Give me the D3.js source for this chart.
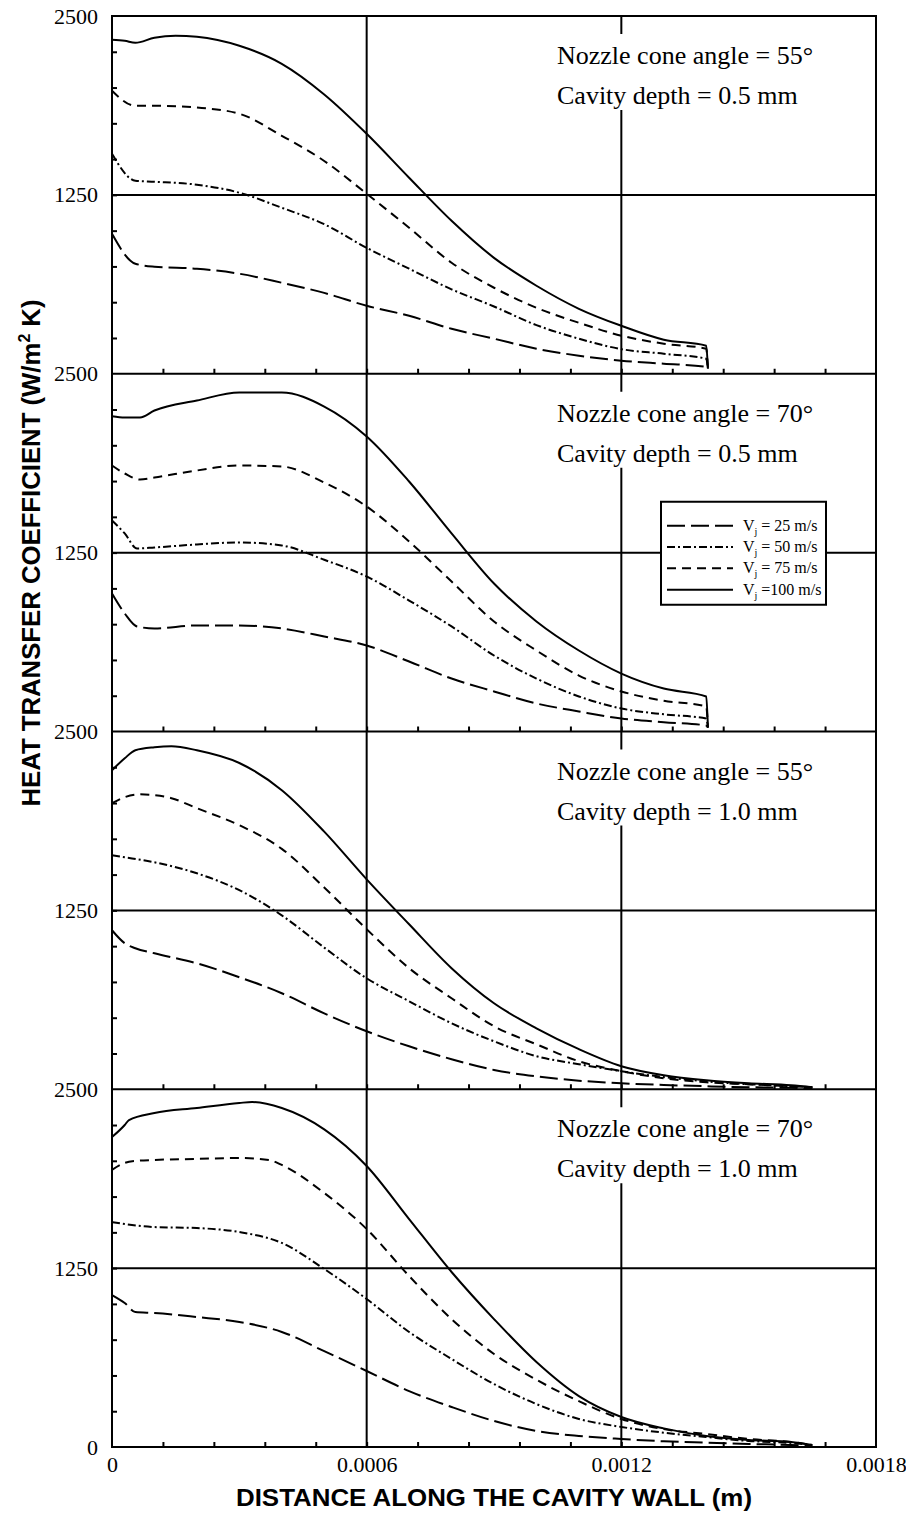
<!DOCTYPE html>
<html>
<head>
<meta charset="utf-8">
<script src="https://cdn.jsdelivr.net/npm/d3@7"></script>
<style>
body { margin: 0; background: #fff; }
svg { display: block; }
</style>
</head>
<body>
<div id="chart"></div>
<script>
// distance along wall (m), heat transfer coefficient (W/m2 K)
// panel 1: cone 55, depth 0.5 mm
const p1v25 = [[0,978],[0.000055,769],[0.0001,748],[0.0002,734],[0.0003,699],[0.0004,636],[0.0005,565],[0.0006,475],[0.0007,405],[0.0008,314],[0.0009,245],[0.001,175],[0.0011,126],[0.0012,91],[0.0013,70],[0.0014,49],[0.001404,35]];
const p1v50 = [[0,1537],[0.000055,1349],[0.0001,1342],[0.0002,1321],[0.0003,1265],[0.0004,1160],[0.0005,1045],[0.0006,880],[0.0007,734],[0.0008,590],[0.0009,470],[0.001,340],[0.0011,245],[0.0012,172],[0.0013,140],[0.0014,105],[0.001404,35]];
const p1v75 = [[0,1978],[0.000055,1873],[0.0001,1873],[0.0002,1860],[0.0003,1817],[0.0004,1663],[0.0005,1487],[0.0006,1258],[0.0007,1020],[0.0008,776],[0.0009,601],[0.001,461],[0.0011,356],[0.0012,266],[0.0013,210],[0.0014,175],[0.001404,35]];
const p1v100 = [[0,2334],[0.00003,2327],[0.000055,2313],[0.0001,2348],[0.00015,2362],[0.0002,2355],[0.0003,2292],[0.0004,2166],[0.0005,1952],[0.0006,1677],[0.0007,1370],[0.0008,1069],[0.0009,810],[0.001,615],[0.0011,454],[0.0012,335],[0.0013,238],[0.0014,196],[0.001404,35]];

// panel 2: cone 70, depth 0.5 mm
const p2v25 = [[0,964],[0.00003,825],[0.000059,734],[0.0001,720],[0.0002,741],[0.0003,741],[0.0004,720],[0.0005,664],[0.0006,601],[0.0007,489],[0.0008,370],[0.0009,280],[0.001,196],[0.0011,140],[0.0012,91],[0.0013,65],[0.0014,42],[0.001404,28]];
const p2v50 = [[0,1474],[0.00003,1384],[0.000059,1279],[0.0001,1286],[0.0002,1307],[0.0003,1321],[0.0004,1300],[0.0005,1200],[0.0006,1083],[0.0007,915],[0.0008,734],[0.0009,531],[0.001,370],[0.0011,245],[0.0012,161],[0.0013,120],[0.0014,91],[0.001404,28]];
const p2v75 = [[0,1859],[0.00003,1803],[0.000066,1761],[0.0001,1775],[0.0002,1824],[0.0003,1859],[0.0004,1852],[0.0005,1740],[0.0006,1572],[0.0007,1328],[0.0008,1048],[0.0009,769],[0.001,566],[0.0011,391],[0.0012,280],[0.0013,215],[0.0014,175],[0.001404,28]];
const p2v100 = [[0,2203],[0.00003,2194],[0.000066,2194],[0.0001,2243],[0.0002,2313],[0.0003,2369],[0.0004,2369],[0.0005,2271],[0.0006,2062],[0.0007,1747],[0.0008,1384],[0.0009,1034],[0.001,769],[0.0011,566],[0.0012,405],[0.0013,300],[0.0014,245],[0.001404,28]];

// panel 3: cone 55, depth 1.0 mm
const p3v25 = [[0,1111],[0.00003,1020],[0.000055,985],[0.0001,950],[0.0002,880],[0.0003,783],[0.0004,671],[0.0005,530],[0.0006,405],[0.0007,300],[0.0008,210],[0.0009,135],[0.001,90],[0.0011,60],[0.0012,42],[0.0013,30],[0.0014,21],[0.0015,14],[0.0016,10],[0.00165,7]];
const p3v50 = [[0,1635],[0.00003,1621],[0.0001,1586],[0.0002,1509],[0.0003,1391],[0.0004,1215],[0.0005,990],[0.0006,775],[0.0007,615],[0.0008,461],[0.0009,335],[0.001,231],[0.0011,175],[0.0012,126],[0.0013,85],[0.0014,55],[0.0015,35],[0.0016,21],[0.00165,14]];
const p3v75 = [[0,1999],[0.00003,2041],[0.000066,2061],[0.0001,2055],[0.00014,2034],[0.0002,1964],[0.0003,1845],[0.0004,1680],[0.0005,1410],[0.0006,1118],[0.0007,846],[0.0008,636],[0.0009,440],[0.001,314],[0.0011,196],[0.0012,126],[0.0013,77],[0.0014,49],[0.0015,35],[0.0016,21],[0.00165,14]];
const p3v100 = [[0,2229],[0.00003,2313],[0.000055,2369],[0.0001,2390],[0.00014,2397],[0.0002,2369],[0.0003,2280],[0.0004,2090],[0.0005,1800],[0.0006,1467],[0.0007,1153],[0.0008,846],[0.0009,601],[0.001,426],[0.0011,280],[0.0012,161],[0.0013,98],[0.0014,63],[0.0015,42],[0.0016,28],[0.00165,14]];

// panel 4: cone 70, depth 1.0 mm
const p4v25 = [[0,1062],[0.00003,1006],[0.000055,943],[0.0001,936],[0.0002,908],[0.0003,874],[0.0004,804],[0.0005,670],[0.0006,531],[0.0007,391],[0.0008,280],[0.0009,182],[0.001,112],[0.0011,77],[0.0012,56],[0.0013,40],[0.0014,30],[0.0015,21],[0.0016,14],[0.00165,7]];
const p4v50 = [[0,1572],[0.00003,1558],[0.0001,1537],[0.0002,1530],[0.0003,1502],[0.0004,1426],[0.0005,1244],[0.0006,1034],[0.0007,804],[0.0008,615],[0.0009,440],[0.001,300],[0.0011,196],[0.0012,140],[0.0013,100],[0.0014,70],[0.0015,42],[0.0016,28],[0.00165,14]];
const p4v75 = [[0,1936],[0.00003,1985],[0.000055,1999],[0.0001,2006],[0.0002,2013],[0.0003,2020],[0.00037,2006],[0.0004,1971],[0.0005,1775],[0.0006,1523],[0.0007,1195],[0.0008,894],[0.0009,650],[0.001,470],[0.0011,320],[0.0012,196],[0.0013,125],[0.0014,91],[0.0015,56],[0.0016,35],[0.00165,14]];
const p4v100 = [[0,2166],[0.00003,2250],[0.00004,2285],[0.0001,2334],[0.0002,2369],[0.0003,2404],[0.00033,2411],[0.0004,2369],[0.0005,2220],[0.0006,1964],[0.0007,1593],[0.0008,1223],[0.0009,894],[0.001,594],[0.0011,356],[0.0012,210],[0.0013,130],[0.0014,77],[0.0015,49],[0.0016,35],[0.00165,14]];

const speeds = ['25', '50', '75', '100'];
const coneAngles = ['55', '70', '55', '70'];
const cavityDepths = ['0.5', '0.5', '1.0', '1.0'];
const xTicks = [0, 0.0006, 0.0012, 0.0018];
const yTicks = [0, 1250, 2500];

const panels = [
    [p1v25, p1v50, p1v75, p1v100],
    [p2v25, p2v50, p2v75, p2v100],
    [p3v25, p3v50, p3v75, p3v100],
    [p4v25, p4v50, p4v75, p4v100]
];

// line styles per jet speed
const dashes = ['18,6', '8,3,2,3', '9,6', null];

const width = 906, height = 1513;
const plotLeft = 112, plotRight = 876, plotTop = 16, panelH = 357.75;
const plotBottom = plotTop + panelH * 4;
const serif = "'Liberation Serif', 'Times New Roman', serif";
const sans = "'Liberation Sans', Arial, sans-serif";

const svg = d3.select('#chart')
    .append('svg')
    .attr('width', width)
    .attr('height', height);

const x = d3.scaleLinear().domain([0, 0.0018]).range([plotLeft, plotRight]);

panels.forEach((series, i) => {
    const y0 = plotTop + i * panelH;
    const y = d3.scaleLinear().domain([0, 2500]).range([y0 + panelH, y0]);
    const g = svg.append('g');

    // grid lines
    g.append('line')
        .attr('x1', plotLeft).attr('x2', plotRight)
        .attr('y1', y(1250)).attr('y2', y(1250))
        .attr('stroke', '#000').attr('stroke-width', 2);
    g.selectAll('.vgrid')
        .data([0.0006, 0.0012])
        .join('line')
        .attr('x1', d => x(d)).attr('x2', d => x(d))
        .attr('y1', y0).attr('y2', y0 + panelH)
        .attr('stroke', '#000').attr('stroke-width', 2);

    // minor ticks
    g.append('g')
        .attr('transform', `translate(0,${y0 + panelH})`)
        .call(d3.axisTop(x).tickValues(d3.range(1, 15).map(k => k * 0.00012)).tickSize(5).tickFormat(''))
        .call(a => a.select('.domain').remove())
        .selectAll('line').attr('stroke-width', 2);
    g.append('g')
        .attr('transform', `translate(${plotLeft},0)`)
        .call(d3.axisRight(y).tickValues(d3.range(250, 2500, 250)).tickSize(5).tickFormat(''))
        .call(a => a.select('.domain').remove())
        .selectAll('line').attr('stroke-width', 2);

    // curves
    const line = d3.line()
        .x(d => x(d[0]))
        .y(d => y(d[1]))
        .curve(d3.curveMonotoneX);

    g.selectAll('.curve')
        .data(series)
        .join('path')
        .attr('d', line)
        .attr('fill', 'none')
        .attr('stroke', '#000')
        .attr('stroke-width', 2)
        .attr('stroke-dasharray', (d, k) => dashes[k]);

    // y labels
    const labels = i === 3 ? yTicks : yTicks.slice(1);
    g.append('g')
        .attr('transform', `translate(${plotLeft},0)`)
        .call(d3.axisLeft(y).tickValues(labels).tickSize(0).tickPadding(14).tickFormat(d3.format('d')))
        .call(a => a.select('.domain').remove())
        .selectAll('text')
        .attr('font-family', serif)
        .attr('font-size', 22)
        .attr('fill', '#000');

    // panel annotation
    g.append('rect')
        .attr('x', 553).attr('y', y0 + 18)
        .attr('width', 272).attr('height', 76)
        .attr('fill', '#fff');
    const note = g.append('text')
        .attr('font-family', serif)
        .attr('font-size', 26)
        .attr('fill', '#000');
    note.append('tspan').attr('x', 557).attr('y', y0 + 48)
        .text(`Nozzle cone angle = ${coneAngles[i]}°`);
    note.append('tspan').attr('x', 557).attr('y', y0 + 88)
        .text(`Cavity depth = ${cavityDepths[i]} mm`);

    // legend sits in the second panel
    if (i === 1) {
        const lg = svg.append('g').attr('transform', `translate(661,${y0 + 128})`);
        lg.append('rect')
            .attr('width', 165).attr('height', 103)
            .attr('fill', '#fff').attr('stroke', '#000').attr('stroke-width', 2);
        const row = lg.selectAll('.row')
            .data(speeds)
            .join('g')
            .attr('transform', (d, k) => `translate(0,${24 + k * 21.3})`);
        row.append('line')
            .attr('x1', 6).attr('x2', 72)
            .attr('stroke', '#000').attr('stroke-width', 2)
            .attr('stroke-dasharray', (d, k) => dashes[k]);
        const t = row.append('text')
            .attr('x', 82).attr('y', 5)
            .attr('font-family', serif)
            .attr('font-size', 16)
            .attr('fill', '#000');
        t.append('tspan').text('V');
        t.append('tspan').attr('font-size', 10).attr('dy', 4).text('j');
        t.append('tspan').attr('dy', -4).text(d => d === '100' ? ' =100 m/s' : ` =  ${d} m/s`);
    }
});

// frame and panel borders
svg.append('rect')
    .attr('x', plotLeft).attr('y', plotTop)
    .attr('width', plotRight - plotLeft).attr('height', plotBottom - plotTop)
    .attr('fill', 'none').attr('stroke', '#000').attr('stroke-width', 2);
svg.selectAll('.sep')
    .data([1, 2, 3])
    .join('line')
    .attr('x1', plotLeft).attr('x2', plotRight)
    .attr('y1', d => plotTop + d * panelH).attr('y2', d => plotTop + d * panelH)
    .attr('stroke', '#000').attr('stroke-width', 2);

// x labels
svg.append('g')
    .attr('transform', `translate(0,${plotBottom})`)
    .call(d3.axisBottom(x).tickValues(xTicks).tickSize(0).tickPadding(9)
        .tickFormat(d => d === 0 ? '0' : d.toFixed(4)))
    .call(a => a.select('.domain').remove())
    .selectAll('text')
    .attr('font-family', serif)
    .attr('font-size', 22)
    .attr('fill', '#000');

// axis titles
svg.append('text')
    .attr('x', (plotLeft + plotRight) / 2)
    .attr('y', 1506)
    .attr('text-anchor', 'middle')
    .attr('font-family', sans)
    .attr('font-weight', 'bold')
    .attr('font-size', 24)
    .attr('textLength', 516)
    .attr('lengthAdjust', 'spacingAndGlyphs')
    .text('DISTANCE ALONG THE CAVITY WALL (m)');

const yTitle = svg.append('text')
    .attr('transform', 'translate(40,553) rotate(-90)')
    .attr('text-anchor', 'middle')
    .attr('font-family', sans)
    .attr('font-weight', 'bold')
    .attr('font-size', 26)
    .attr('textLength', 507)
    .attr('lengthAdjust', 'spacingAndGlyphs');
yTitle.append('tspan').text('HEAT TRANSFER COEFFICIENT (W/m');
yTitle.append('tspan').attr('font-size', 16).attr('dy', -10).text('2');
yTitle.append('tspan').attr('dy', 10).text(' K)');
</script>
</body>
</html>
